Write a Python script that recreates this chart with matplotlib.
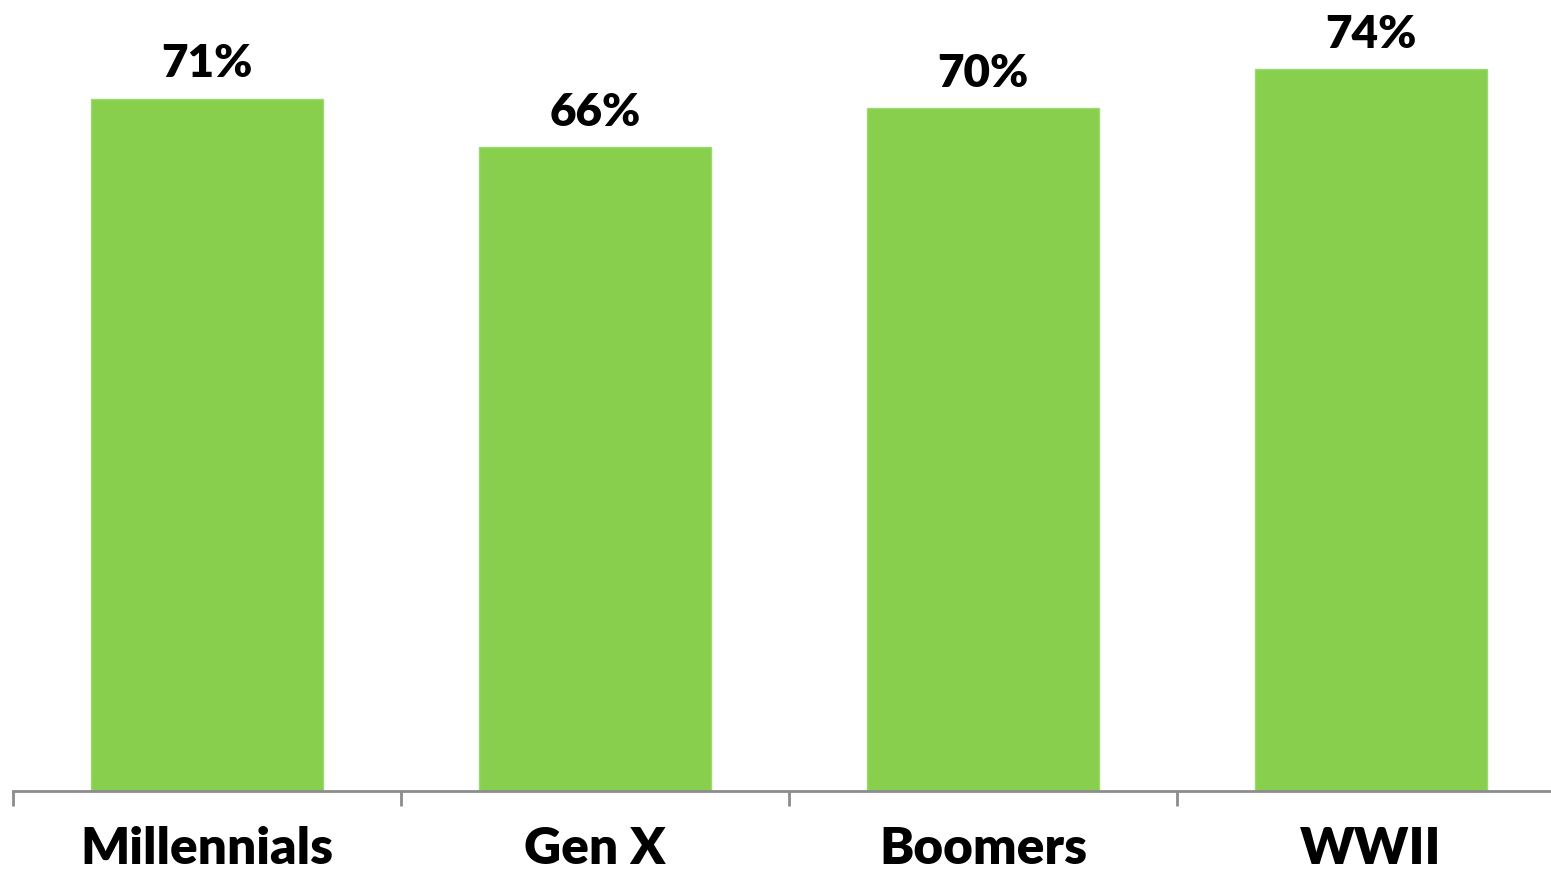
import matplotlib
matplotlib.use("Agg")
import matplotlib.pyplot as plt

categories = ["Millennials", "Gen X", "Boomers", "WWII"]
values = [71, 66, 70, 74]
value_labels = ["71%", "66%", "70%", "74%"]

bar_color = "#88CF4E"
axis_color = "#8C8C8C"

fig = plt.figure(figsize=(15.51, 8.77), dpi=100)
ax = fig.add_axes([13 / 1551, 86 / 877, 1552 / 1551, 791 / 877])

x = list(range(len(categories)))
ax.bar(x, values, width=0.6, color=bar_color, edgecolor="#9ED873", linewidth=1, zorder=2)

for xi, v, lab in zip(x, values, value_labels):
    ax.annotate(lab, (xi, v), xytext=(0, 10.5), textcoords="offset points",
                ha="center", va="bottom", fontsize=33, fontweight="heavy",
                family=["Lato", "DejaVu Sans"], color="black")

ax.set_xlim(-0.5, len(categories) - 0.5)
ax.set_ylim(0, 81.1)

for s in ["top", "right", "left"]:
    ax.spines[s].set_visible(False)
ax.spines["bottom"].set_color(axis_color)
ax.spines["bottom"].set_linewidth(2)
ax.spines["bottom"].set_zorder(3)

ax.set_yticks([])
ax.set_xticks([i - 0.5 for i in range(len(categories) + 1)])
ax.set_xticklabels([])
ax.tick_params(axis="x", which="major", length=11, width=2, color=axis_color)
ax.set_xticks(x, minor=True)
ax.set_xticklabels(categories, minor=True, fontsize=37, fontweight="heavy",
                   family=["Lato", "DejaVu Sans"])
ax.tick_params(axis="x", which="minor", length=0, pad=25)

fig.savefig("out.png", dpi=100)
